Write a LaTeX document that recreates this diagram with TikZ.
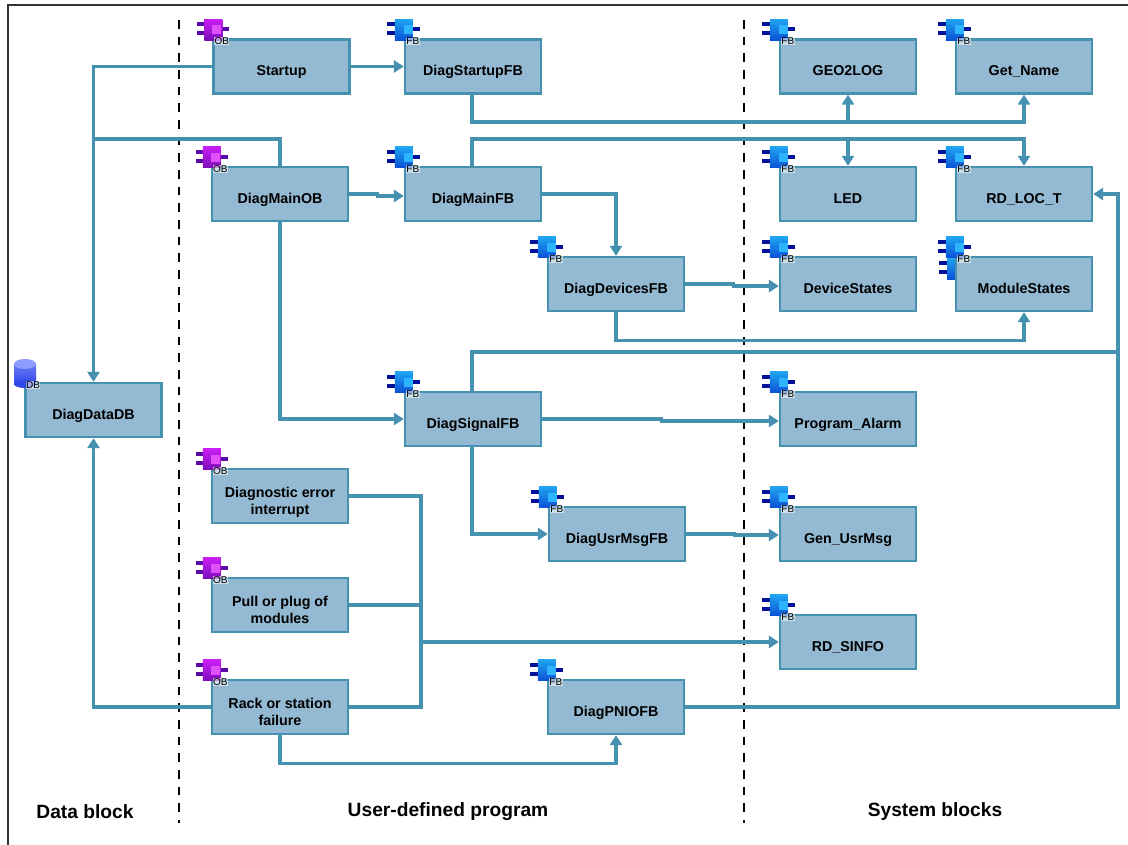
\documentclass[tikz,border=0pt]{standalone}
\usepackage{fontspec}
\setmainfont{Liberation Sans}
\usetikzlibrary{arrows.meta}

\definecolor{linecol}{HTML}{4691B0}
\definecolor{boxcol}{HTML}{93BAD2}
\definecolor{fbtop}{HTML}{1FA4F2}
\definecolor{fbbot}{HTML}{0A4FD6}
\definecolor{fbpin}{HTML}{00109A}
\definecolor{fbinner}{HTML}{2DB4FF}
\definecolor{obtop}{HTML}{C81EF5}
\definecolor{obbot}{HTML}{7A0CB8}
\definecolor{obpin}{HTML}{5A0AA8}
\definecolor{obinner}{HTML}{E050FA}
\definecolor{dbtop}{HTML}{8E9CFF}
\definecolor{dbbot}{HTML}{3048E8}

\tikzset{
    blockbox/.style={draw=linecol, fill=boxcol, line width=1.7pt, minimum width=102pt, minimum height=40.5pt,
        font=\fontsize{10.7}{12.75}\selectfont\bfseries, text height=14pt, text depth=0pt},
    twoline/.style={align=center, text height=27pt},
    conn/.style={draw=linecol, line width=2.4pt},
    arrow/.style={conn, -{Triangle[length=7.5pt, width=9pt]}},
    divider/.style={line width=1.6pt, dash pattern=on 6.6pt off 5.9pt},
    heading/.style={font=\fontsize{14.4}{16}\selectfont\bfseries},
    icontag/.style={font=\fontsize{7.5}{8}\selectfont, fill=white, fill opacity=0.55, text opacity=1, inner sep=0.3pt},
    fbicon/.pic={
        \foreach \y in {-14, -5} \fill[fbpin] (-17, \y-2) rectangle (-9, \y+2);
        \fill[fbpin] (9, -11) rectangle (16, -7);
        \fill[top color=fbtop, bottom color=fbbot] (-9, -19) rectangle (9, 2);
        \fill[fbinner] (0, -13) rectangle (9, -4);
        \node[icontag] (tag) at (9, 3) {FB};
    },
    obicon/.pic={
        \foreach \y in {-14, -5} \fill[obpin] (-15, \y-2) rectangle (-8, \y+2);
        \fill[obpin] (10, -11) rectangle (17, -7);
        \fill[top color=obtop, bottom color=obbot] (-8, -19) rectangle (10, 2);
        \fill[obinner] (0, -13) rectangle (9, -4);
        \node[icontag] (tag) at (9.5, 3) {OB};
    },
}

\begin{document}
\begin{tikzpicture}[x=0.75pt, y=-0.75pt]
            \path[use as bounding box, fill=white] (0, 0) rectangle (1128, 845);

            % frame and separators
            \draw[line width=1.5pt, black!80] (8, 845) -- (8, 5) -- (1128, 5);
            \draw[divider] (179, 20) -- (179, 823);
            \draw[divider] (744, 20) -- (744, 823);

            % data block
            \node[blockbox] (diagdatadb) at (93.5, 410) {DiagDataDB};

            % user-defined program
            \node[blockbox] (startup) at (281.5, 66.5) {Startup};
            \node[blockbox] (diagstartupfb) at (473, 66.5) {DiagStartupFB};
            \node[blockbox] (diagmainob) at (280, 194) {DiagMainOB};
            \node[blockbox] (diagmainfb) at (473, 194) {DiagMainFB};
            \node[blockbox] (diagdevicesfb) at (616, 284) {DiagDevicesFB};
            \node[blockbox] (diagsignalfb) at (473, 419) {DiagSignalFB};
            \node[blockbox] (diagusrmsgfb) at (617, 534) {DiagUsrMsgFB};
            \node[blockbox, twoline] (errorob) at (280, 496) {Diagnostic error\\interrupt};
            \node[blockbox, twoline] (pullob) at (280, 605) {Pull or plug of\\modules};
            \node[blockbox, twoline] (rackob) at (280, 707) {Rack or station\\failure};
            \node[blockbox] (diagpniofb) at (616, 707) {DiagPNIOFB};

            % system blocks
            \node[blockbox] (geotolog) at (848, 66.5) {GEO2LOG};
            \node[blockbox] (getname) at (1024, 66.5) {Get\_Name};
            \node[blockbox] (led) at (848, 194) {LED};
            \node[blockbox] (rdloct) at (1024, 194) {RD\_LOC\_T};
            \node[blockbox] (devicestates) at (848, 284) {DeviceStates};
            \pic at (956, 277) {fbicon};
            \node[blockbox] (modulestates) at (1024, 284) {ModuleStates};
            \node[blockbox] (programalarm) at (848, 419) {Program\_Alarm};
            \node[blockbox] (genusrmsg) at (848, 534) {Gen\_UsrMsg};
            \node[blockbox] (rdsinfo) at (848, 642) {RD\_SINFO};

            % icons
            \foreach \b in {startup, diagmainob, errorob, pullob, rackob}
                \pic at (\b.north west) {obicon};
            \foreach \b in {diagstartupfb, diagmainfb, diagdevicesfb, diagsignalfb, diagusrmsgfb, diagpniofb,
                            geotolog, getname, led, rdloct, devicestates, modulestates, programalarm, genusrmsg, rdsinfo}
                \pic at (\b.north west) {fbicon};
            \fill[top color=dbtop!60!dbbot, bottom color=dbbot] (14, 364) rectangle (36, 384);
            \fill[dbbot] (25, 384) ellipse[x radius=11, y radius=4];
            \fill[dbtop] (25, 364) ellipse[x radius=11, y radius=5];
            \node[icontag] (dbtag) at (33, 385) {DB};

            % bus points
            \coordinate (startbus) at (472, 122);
            \coordinate (mainbus) at (472, 139);
            \coordinate (obbus) at (93.5, 139);
            \coordinate (signalbus) at (472, 352);
            \coordinate (rightbus) at (1118, 352);
            \coordinate (errorbus) at (421, 642);

            % connectors
            \draw[arrow] (startup.west) -| (diagdatadb.north);
            \draw[arrow] (startup.east) -- (diagstartupfb.west);
            \draw[arrow] (diagstartupfb.south -| startbus) |- (startbus) -| (getname.south);
            \draw[arrow] (startbus -| geotolog.south) -- (geotolog.south);
            \draw[conn] (diagmainob.north) |- (obbus);
            \draw[arrow] (diagmainob.east) -- ++(28, 0) -- ++(0, 2) -- ([yshift=-1.5pt]diagmainfb.west);
            \draw[arrow] (diagmainfb.north -| mainbus) |- (mainbus) -| (rdloct.north);
            \draw[arrow] (mainbus -| led.north) -- (led.north);
            \draw[arrow] (diagmainfb.east) -| (diagdevicesfb.north);
            \draw[arrow] (diagdevicesfb.east) -- ++(48, 0) -- ++(0, 2) -- ([yshift=-1.5pt]devicestates.west);
            \draw[arrow] (diagdevicesfb.south) |- ++(0, 28) -| (modulestates.south);
            \draw[arrow] (diagmainob.south) |- (diagsignalfb.west);
            \draw[arrow] (diagsignalfb.north -| signalbus) |- (rightbus) |- (rdloct.east);
            \draw[arrow] (diagsignalfb.east) -- ++(119, 0) -- ++(0, 2) -- ([yshift=-1.5pt]programalarm.west);
            \draw[arrow] (diagsignalfb.south -| signalbus) |- (diagusrmsgfb.west);
            \draw[arrow] (diagusrmsgfb.east) -- ++(48, 0) -- ++(0, 1) -- ([yshift=-0.75pt]genusrmsg.west);
            \draw[conn] (errorob.east) -| (rackob.east -| errorbus) -- (rackob.east);
            \draw[conn] (pullob.east) -- (pullob.east -| errorbus);
            \draw[arrow] (errorbus) -- (rdsinfo.west);
            \draw[arrow] (rackob.west) -| (diagdatadb.south);
            \draw[arrow] (rackob.south) |- ++(0, 28) -| (diagpniofb.south);
            \draw[conn] (diagpniofb.east) -| (rightbus);

            % headings
            \node[heading] (datalabel) at (85, 812) {Data block};
            \node[heading] (userlabel) at (448, 812) {User-defined program};
            \node[heading] (systemlabel) at (935, 812) {System blocks};
        \end{tikzpicture}
\end{document}
